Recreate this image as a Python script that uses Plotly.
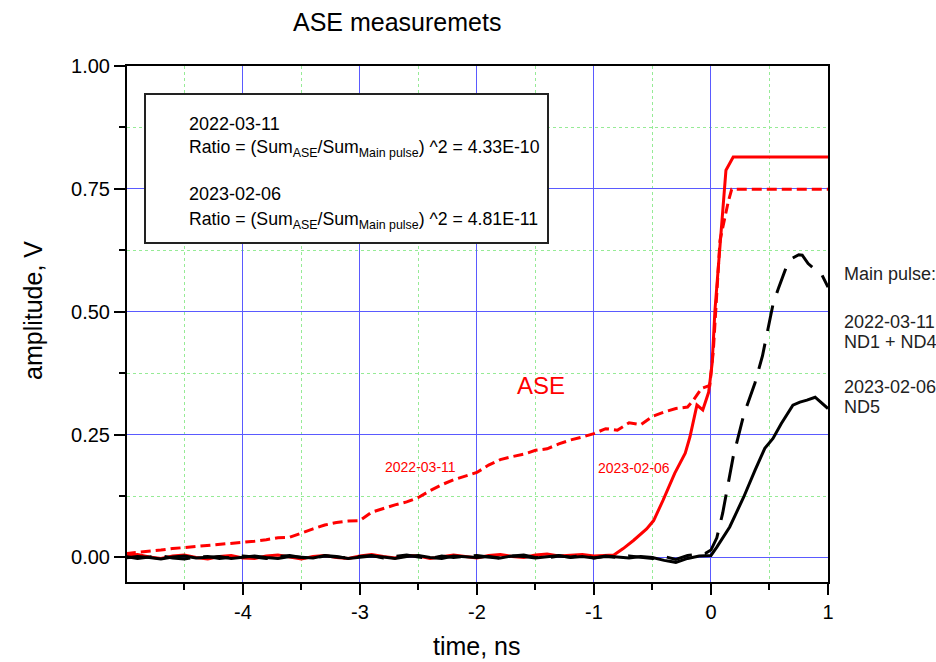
import numpy as np
import plotly.graph_objects as go

# ---------------- data ----------------
base_t = [round(-5.0 + 0.1 * i, 2) for i in range(50)]  # -5.0 ... -0.1

# ASE 2022-03-11 (red dashed)
ase22_t = base_t[:49] + [-0.15, -0.08, -0.01, 0.02, 0.077, 0.148, 0.177, 1.0]
ase22_v = [0.008, 0.010, 0.012, 0.015, 0.018, 0.020, 0.022, 0.024, 0.026, 0.028,
           0.030, 0.033, 0.036, 0.040, 0.041, 0.050, 0.058, 0.066, 0.071, 0.074,
           0.075, 0.092, 0.100, 0.107, 0.113, 0.122, 0.136, 0.148, 0.158, 0.166,
           0.173, 0.188, 0.199, 0.205, 0.210, 0.218, 0.221, 0.231, 0.239, 0.245,
           0.252, 0.262, 0.259, 0.274, 0.270, 0.287, 0.296, 0.303, 0.306,
           0.320, 0.344, 0.350, 0.420, 0.645, 0.724, 0.749, 0.749]

# ASE 2023-02-06 (red solid)
ase23_t = base_t[:42] + [-0.83, -0.75, -0.66, -0.55, -0.49, -0.41, -0.31, -0.22,
                         -0.18, -0.12, -0.07, -0.02, 0.01, 0.034, 0.077, 0.128, 0.19, 1.0]
ase23_v = [0.004, 0.006, 0.001, -0.002, 0.003, 0.005, 0.000, -0.003, 0.002, 0.004,
           -0.001, -0.002, 0.003, 0.005, 0.001, -0.003, 0.002, 0.004, 0.000, -0.002,
           0.003, 0.006, 0.002, -0.001, 0.004, 0.003, -0.002, 0.001, 0.005, 0.002,
           -0.001, 0.004, 0.006, 0.002, 0.000, 0.005, 0.007, 0.003, 0.004, 0.006,
           0.003, 0.004,
           0.005, 0.018, 0.035, 0.058, 0.075, 0.116, 0.171, 0.212,
           0.245, 0.310, 0.300, 0.336, 0.395, 0.503, 0.625, 0.788, 0.815, 0.815]

# Main pulse 2022-03-11, ND1 + ND4 (black dashed)
main22_t = base_t + [-0.05, 0.0, 0.05, 0.1, 0.19, 0.28, 0.376, 0.44, 0.48, 0.53,
                     0.58, 0.65, 0.69, 0.75, 0.78, 0.83, 0.95, 1.0]
main22_v = [0.002, -0.002, 0.001, 0.003, -0.001, -0.003, 0.001, 0.002, -0.002, 0.000,
            0.003, 0.001, -0.002, 0.002, 0.004, 0.000, -0.002, 0.003, 0.001, -0.001,
            0.002, 0.004, -0.001, 0.002, 0.005, 0.001, -0.002, 0.003, 0.000, 0.002,
            0.004, 0.001, -0.002, 0.003, 0.005, 0.000, -0.001, 0.003, 0.001, 0.004,
            -0.001, 0.002, 0.000, 0.003, 0.001, -0.002, 0.002, -0.004, 0.004, 0.006,
            0.008, 0.015, 0.040, 0.090, 0.205, 0.290, 0.355, 0.410, 0.456, 0.515,
            0.550, 0.595, 0.608, 0.616, 0.615, 0.598, 0.574, 0.550]

# Main pulse 2023-02-06, ND5 (black solid)
main23_t = base_t + [0.0, 0.05, 0.16, 0.28, 0.376, 0.46, 0.53, 0.60, 0.70, 0.76,
                     0.82, 0.89, 1.0]
main23_v = [-0.001, 0.002, 0.000, -0.003, 0.001, 0.003, -0.001, 0.000, 0.002, -0.002,
            0.001, 0.003, 0.000, -0.002, 0.002, 0.001, -0.001, 0.004, 0.002, -0.002,
            0.000, 0.003, 0.001, -0.002, 0.002, 0.004, 0.000, -0.002, 0.003, 0.001,
            0.000, 0.002, -0.001, 0.003, 0.002, -0.001, 0.001, 0.004, 0.000, 0.002,
            -0.001, 0.003, 0.001, -0.001, 0.002, 0.000, -0.006, -0.010, -0.002, 0.003,
            0.004, 0.021, 0.062, 0.123, 0.177, 0.222, 0.242, 0.272, 0.310, 0.316,
            0.320, 0.326, 0.303]

x_ticks = [-4, -3, -2, -1, 0, 1]
y_ticks = [0.0, 0.25, 0.5, 0.75, 1.0]

# ---------------- figure ----------------
FONT = "Liberation Sans, Arial, sans-serif"
L, R, T, B = 127, 108, 66, 80
W, H = 936, 662
PW, PH = W - L - R, H - T - B


def px(x):
    return (x - L) / PW


def py(y):
    return (H - B - y) / PH


fig = go.Figure()
fig.add_trace(go.Scatter(x=ase23_t, y=ase23_v, mode="lines",
                         line=dict(color="#ff0000", width=3), showlegend=False))
fig.add_trace(go.Scatter(x=ase22_t, y=ase22_v, mode="lines",
                         line=dict(color="#ff0000", width=3, dash="10px,5px"), showlegend=False))
fig.add_trace(go.Scatter(x=main22_t, y=main22_v, mode="lines",
                         line=dict(color="#000000", width=3, dash="26px,13px"), showlegend=False))
fig.add_trace(go.Scatter(x=main23_t, y=main23_v, mode="lines",
                         line=dict(color="#000000", width=3), showlegend=False))

grid_major = "rgb(90,90,255)"
grid_minor = "rgb(150,235,150)"

fig.update_xaxes(range=[-4.99, 1.0], tickvals=x_ticks, ticktext=[str(v) for v in x_ticks],
                 showgrid=True, gridcolor=grid_major, gridwidth=1, zeroline=False,
                 showline=True, linecolor="black", linewidth=2, mirror=True,
                 ticks="outside", ticklen=11, tickwidth=2, tickcolor="black",
                 tickfont=dict(size=20, color="black", family=FONT),
                 minor=dict(dtick=0.5, tick0=0, showgrid=True, gridcolor=grid_minor,
                            griddash="dot", gridwidth=1, ticks="outside", ticklen=6,
                            tickwidth=2, tickcolor="black"))
fig.update_yaxes(range=[-0.05, 1.0], tickvals=y_ticks, ticktext=["%.2f" % v for v in y_ticks],
                 showgrid=True, gridcolor=grid_major, gridwidth=1, zeroline=False,
                 showline=True, linecolor="black", linewidth=2, mirror=True,
                 ticks="outside", ticklen=11, tickwidth=2, tickcolor="black",
                 ticklabelstandoff=0,
                 tickfont=dict(size=20, color="black", family=FONT),
                 minor=dict(dtick=0.125, tick0=0, showgrid=True, gridcolor=grid_minor,
                            griddash="dot", gridwidth=1, ticks="outside", ticklen=6,
                            tickwidth=2, tickcolor="black"))

fig.add_shape(type="rect", xref="paper", yref="paper",
              x0=px(145), x1=px(548), y0=py(243), y1=py(94),
              line=dict(color="#222222", width=2), fillcolor="white", layer="above")

ann = []


def text(x, y, s, size, color="black", xanchor="left", angle=0):
    ann.append(dict(x=px(x), y=py(y), xref="paper", yref="paper", text=s, showarrow=False,
                    xanchor=xanchor, yanchor="middle", textangle=angle,
                    font=dict(size=size, color=color, family=FONT)))


text(187, 124, "2022-03-11", 18)
text(187, 149, "Ratio = (Sum<sub>ASE</sub>/Sum<sub>Main pulse</sub>) ^2 = 4.33E-10", 17.7)
text(187, 194, "2023-02-06", 18)
text(187, 220, "Ratio = (Sum<sub>ASE</sub>/Sum<sub>Main pulse</sub>) ^2 = 4.81E-11", 17.7)

text(842, 274, "Main pulse:", 18, "#222222")
text(842, 322, "2022-03-11", 18, "#222222")
text(842, 342, "ND1 + ND4", 18, "#222222")
text(842, 387, "2023-02-06", 18, "#222222")
text(842, 407, "ND5", 18, "#222222")

text(541, 385, "ASE", 24, "#ff0000", xanchor="center")
text(420, 467, "2022-03-11", 14, "#ff0000", xanchor="center")
text(634, 468, "2023-02-06", 14, "#ff0000", xanchor="center")

text(397, 22, "ASE measuremets", 25, "black", xanchor="center")
text(477, 646, "time, ns", 25, "black", xanchor="center")
text(33, 311, "amplitude, V", 25, "black", xanchor="center", angle=-90)

fig.update_layout(width=W, height=H, margin=dict(l=L, r=R, t=T, b=B),
                  paper_bgcolor="white", plot_bgcolor="white",
                  font=dict(family=FONT, color="black"),
                  annotations=ann, showlegend=False)

fig.write_html("out.html")
